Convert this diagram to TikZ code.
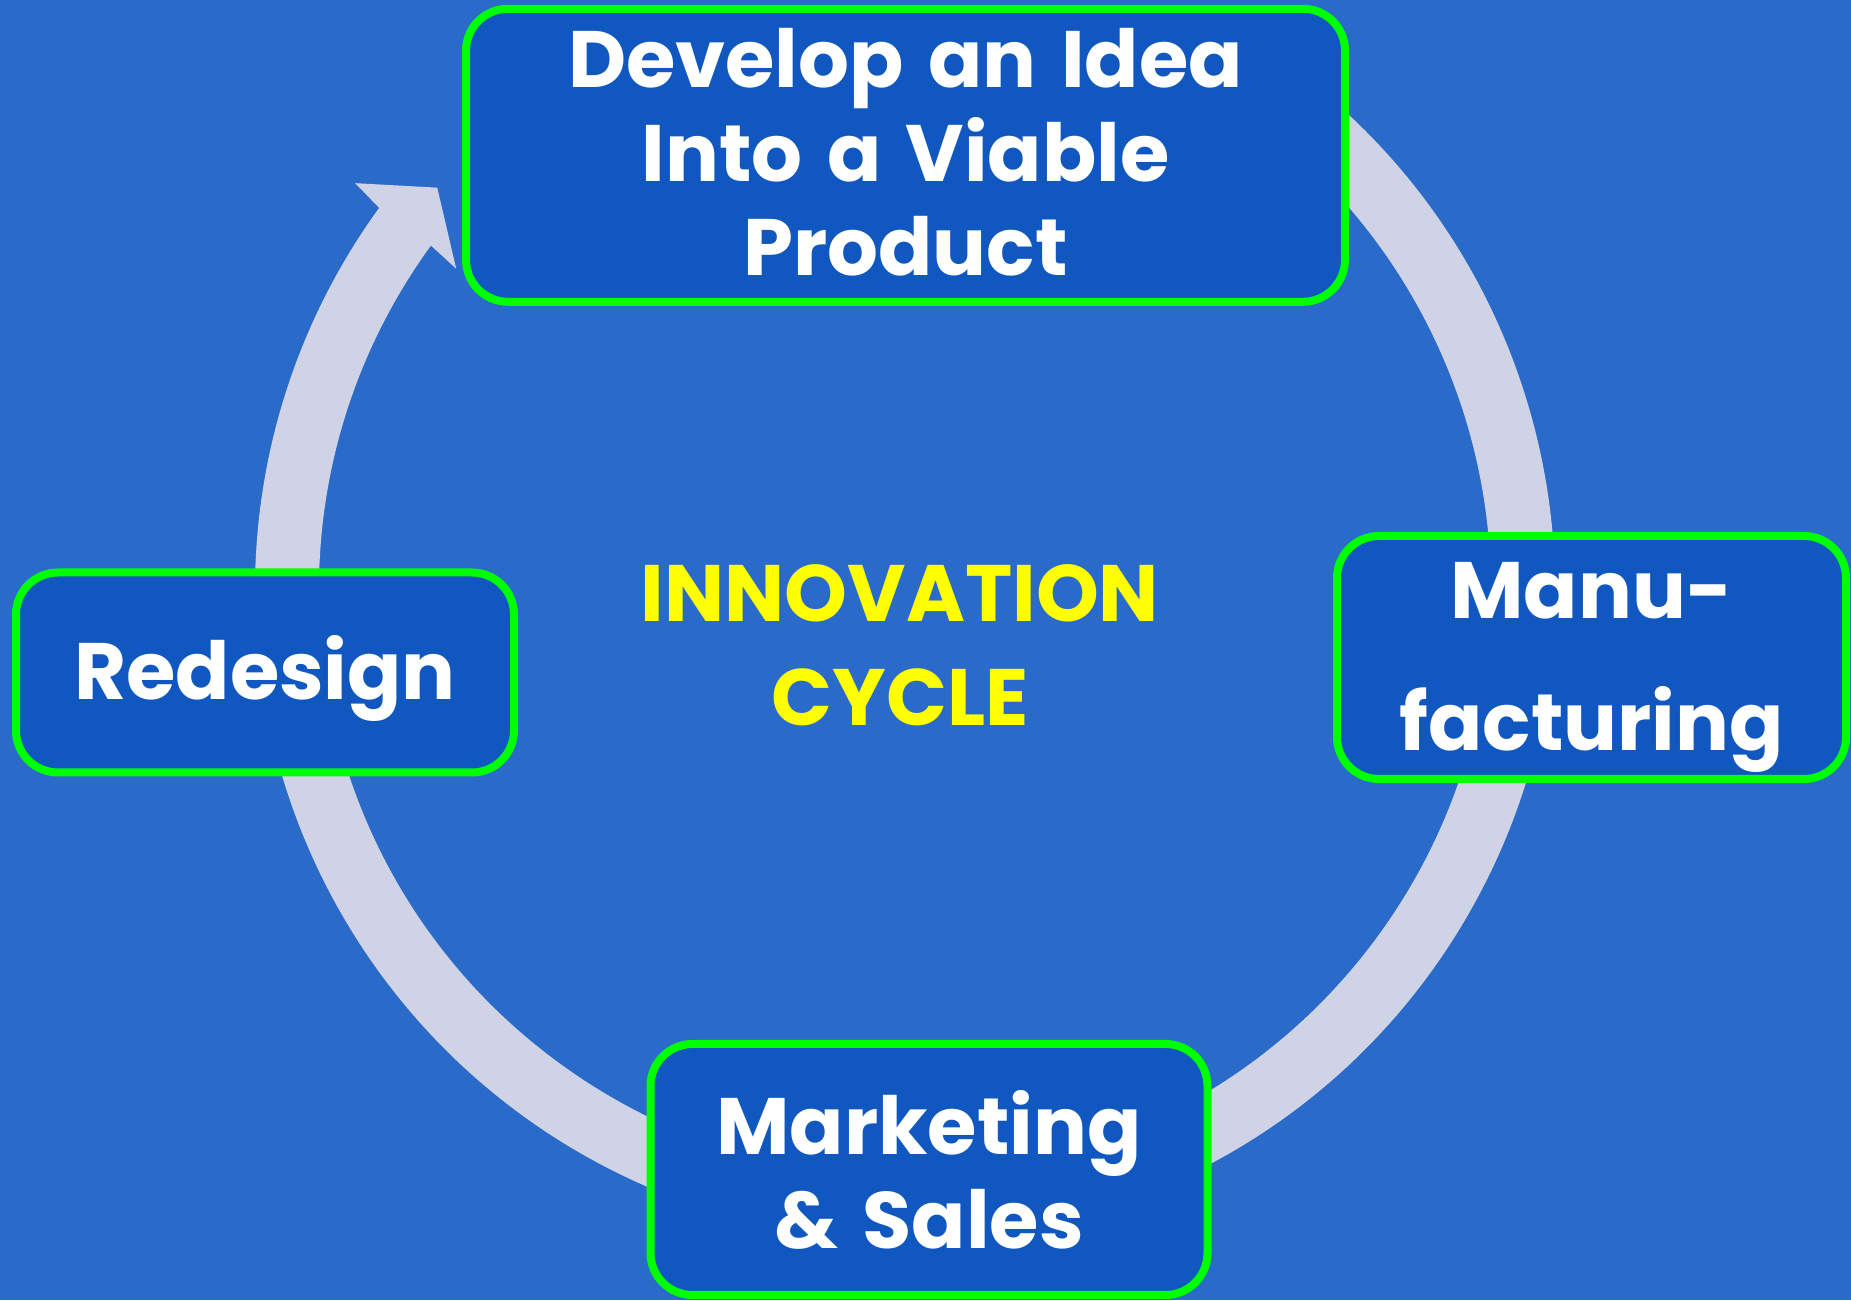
\documentclass[tikz,border=0pt]{standalone}
\usepackage{fontspec}
\setmainfont{Poppins}[WordSpace=1.45]
\usetikzlibrary{positioning,calc}

\definecolor{slide}{RGB}{42,107,201}
\definecolor{boxblue}{RGB}{16,88,192}
\definecolor{ringgrey}{RGB}{207,211,229}
\definecolor{edgegreen}{RGB}{0,255,0}
\definecolor{titleyellow}{RGB}{255,255,0}

% lower a line of text without changing the space it takes
\newcommand{\sunk}[2]{\raisebox{-#1}[\height][\depth]{#2}}

\tikzset{
  stage/.style={draw=edgegreen, line width=8pt, fill=boxblue, rounded corners=42pt,
    text=white, align=center, font=\bfseries\fontsize{80}{94}\selectfont},
  bigtitle/.style={text=titleyellow, align=center, font=\bfseries\fontsize{80}{104}\selectfont}
}

\begin{document}
\begin{tikzpicture}[x=1pt,y=1pt]
    \fill[slide] (0,0) rectangle (1851,1300);
    \useasboundingbox (0,0) rectangle (1851,1300);
    \coordinate (hub) at (905,710);
    \coordinate [below left = 55pt and 5pt of hub] (title_c);

    % the cycle ring, ending in its arrow head
    \fill[ringgrey] ($(hub)+(60:650)$) arc[start angle=60, end angle=-216, radius=650]
        -- ($(hub)+(143.5:684)$) -- ($(hub)+(139.3:617)$) -- ($(hub)+(144.4:552)$)
        -- ($(hub)+(144:586)$) arc[start angle=-216, end angle=60, radius=586] -- cycle;

    \node[stage, minimum width=879pt, minimum height=293pt] (idea) at (905.5,1144.7)
        {\sunk{-3.5pt}{Develop an Idea}\\\sunk{-3.5pt}{Into a Viable}\\\sunk{-3.5pt}{Product}};
    \node[stage, minimum width=498pt, minimum height=200pt] (redesign) at (265,627.5)
        {\sunk{6pt}{Redesign}};
    \node[stage, minimum width=509pt, minimum height=243pt] (manu) at (1591.5,642.5)
        {\sunk{9.5pt}{Manu-}\\[38pt]\sunk{9.5pt}{facturing}};
    \node[stage, minimum width=557pt, minimum height=251pt] (market) at (929,130.5)
        {Marketing\\\& Sales};
    \node[bigtitle] (cycle) at (title_c) {INNOVATION\\CYCLE};
\end{tikzpicture}
\end{document}
